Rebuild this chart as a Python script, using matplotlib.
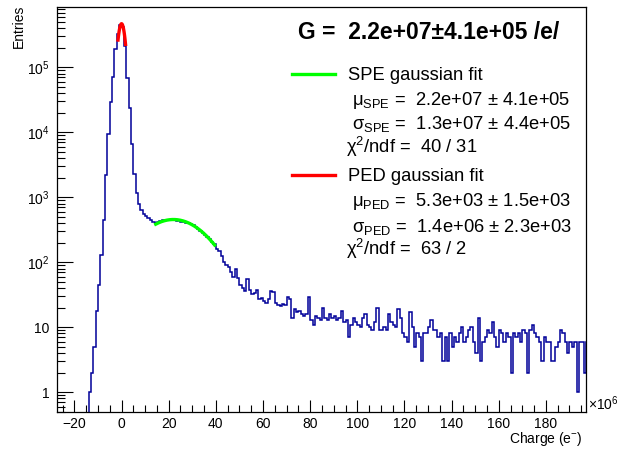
import numpy as np
import matplotlib.pyplot as plt
from matplotlib.ticker import FixedLocator, FixedFormatter, MultipleLocator, LogLocator, NullFormatter

plt.rcParams['font.family'] = ['Liberation Sans', 'DejaVu Sans']
plt.rcParams['mathtext.fontset'] = 'custom'
plt.rcParams['mathtext.rm'] = 'Liberation Sans'
plt.rcParams['mathtext.it'] = 'Liberation Sans:italic'
plt.rcParams['mathtext.bf'] = 'Liberation Sans:bold'

# charge histogram, x in units of 1e6 e, 1e6 wide bins starting at -15e6
bin_start = -15
bin_width = 1.0
peak_counts = [0, 1, 2, 5, 18, 45, 130, 450, 2200, 9500,
               29000, 72000, 190000, 330000, 450000, 420000, 210000, 68000, 24000, 6500,
               2300, 1150, 780, 630, 560, 510, 480, 440, 410, 400]
spe_counts = [415, 425, 440, 445, 450, 455, 445, 440, 430, 440,
              420, 425, 405, 400, 385, 370, 345, 330, 305, 285,
              260, 245, 225, 205, 190]
tail_counts = [160, 150, 125, 100, 92, 85, 72, 60, 78, 58,
               45, 40, 36, 56, 38, 33, 34, 38, 27, 28,
               25, 24, 27, 36, 35, 24, 22, 21, 23, 22,
               29, 27, 14, 19, 17, 18, 16, 15, 16, 29,
               13, 11, 15, 14, 13, 20, 14, 13, 16, 14,
               15, 13, 14, 18, 12, 13, 7, 11, 14, 12,
               11, 10, 14, 16, 11, 10, 9, 12, 20, 9,
               9, 10, 9, 16, 12, 11, 10, 19, 14, 8,
               7, 6, 17, 10, 5, 8, 7, 3, 8, 8,
               10, 13, 9, 9, 7, 8, 3, 7, 3, 8,
               5, 7, 6, 8, 10, 6, 7, 9, 10, 6,
               4, 14, 3, 6, 7, 9, 8, 12, 7, 5,
               9, 8, 6, 8, 7, 2, 8, 7, 8, 6,
               9, 8, 2, 9, 11, 8, 7, 6, 3, 7,
               6, 6, 3, 3, 5, 6, 9, 8, 6, 4,
               6, 5, 6, 1, 6, 6, 2, 6]
counts = np.array(peak_counts + spe_counts + tail_counts, dtype=float)
edges = bin_start + bin_width * np.arange(len(counts) + 1)

# fit results
spe_amp, spe_mu, spe_sigma = 455.0, 22.0, 13.0
spe_range = (14.5, 39.5)
ped_amp, ped_mu, ped_sigma = 470000.0, 0.0053, 1.4
ped_range = (-1.5, 1.7)

W, H = 617, 449
fig = plt.figure(figsize=(W / 100, H / 100), dpi=100)
ax = fig.add_axes([56.7 / W, 1 - 411.7 / H, (586 - 56.7) / W, (411.7 - 6.7) / H])

ax.stairs(counts, edges, color='#000099', lw=1.1)

xs = np.linspace(spe_range[0], spe_range[1], 200)
ax.plot(xs, spe_amp * np.exp(-0.5 * ((xs - spe_mu) / spe_sigma) ** 2), color='#00ff00', lw=2.4)
xp = np.linspace(ped_range[0], ped_range[1], 100)
ax.plot(xp, ped_amp * np.exp(-0.5 * ((xp - ped_mu) / ped_sigma) ** 2), color='#ff0000', lw=2.4)

ax.set_yscale('log', nonpositive='clip')
ax.set_xlim(-27.5, 197)
ax.set_ylim(0.5, 8.6e5)

ax.xaxis.set_minor_locator(MultipleLocator(5))
ytick_vals = [1, 10, 100, 1e3, 1e4, 1e5]
ytick_text = ['1', '10', r'10$^{2}$', r'10$^{3}$', r'10$^{4}$', r'10$^{5}$']
ax.yaxis.set_major_locator(FixedLocator(ytick_vals))
ax.yaxis.set_major_formatter(FixedFormatter(ytick_text))
ax.yaxis.set_minor_locator(LogLocator(base=10, subs=np.arange(2, 10)))
ax.yaxis.set_minor_formatter(NullFormatter())

xt = np.arange(-20, 181, 20)
ax.set_xticks(xt)
ax.set_xticklabels([str(v).replace('-', '\u2212') for v in xt])

ax.tick_params(which='both', direction='in', top=False, right=False, labelsize=10, color='black')
ax.tick_params(axis='x', which='major', length=8.5, width=0.8, pad=3.5)
ax.tick_params(axis='x', which='minor', length=5, width=0.8)
ax.tick_params(axis='y', which='major', length=11.5, width=0.8, pad=5)
ax.tick_params(axis='y', which='minor', length=5.8, width=0.8)
for s in ax.spines.values():
    s.set_linewidth(0.9)


def px(x, y):
    return x / W, 1 - y / H


fig.text(*px(19, 5), 'Entries', rotation=90, ha='center', va='top', fontsize=10)
fig.text(*px(583, 439), r'Charge (e$^{-}$)', ha='right', va='center', fontsize=10)
fig.text(*px(588, 404), r'$\times$10$^{6}$', ha='left', va='center', fontsize=10)

fig.text(*px(298, 39), 'G =  2.2e+07\u00b14.1e+05 /e/', ha='left', va='baseline',
         fontsize=16.5, fontweight='bold')

fs = 13.2
lines = [
    (348, 80, 'SPE gaussian fit'),
    (352, 105, r'$\mathrm{\mu}_{\mathrm{SPE}}$ =  2.2e+07 ± 4.1e+05'),
    (352, 129, r'$\mathrm{\sigma}_{\mathrm{SPE}}$ =  1.3e+07 ± 4.4e+05'),
    (346, 153, r'$\mathrm{\chi}^{2}$/ndf =  40 / 31'),
    (348, 181, 'PED gaussian fit'),
    (352, 206, r'$\mathrm{\mu}_{\mathrm{PED}}$ =  5.3e+03 ± 1.5e+03'),
    (352, 232, r'$\mathrm{\sigma}_{\mathrm{PED}}$ =  1.4e+06 ± 2.3e+03'),
    (346, 255, r'$\mathrm{\chi}^{2}$/ndf =  63 / 2'),
]
for x, y, t in lines:
    fig.text(*px(x, y), t, ha='left', va='baseline', fontsize=fs)

fig.add_artist(plt.Line2D([292 / W, 335 / W], [1 - 74 / H] * 2, color='#00ff00', lw=2.4))
fig.add_artist(plt.Line2D([292 / W, 335 / W], [1 - 175 / H] * 2, color='#ff0000', lw=2.4))

fig.savefig('out.png', dpi=100)
